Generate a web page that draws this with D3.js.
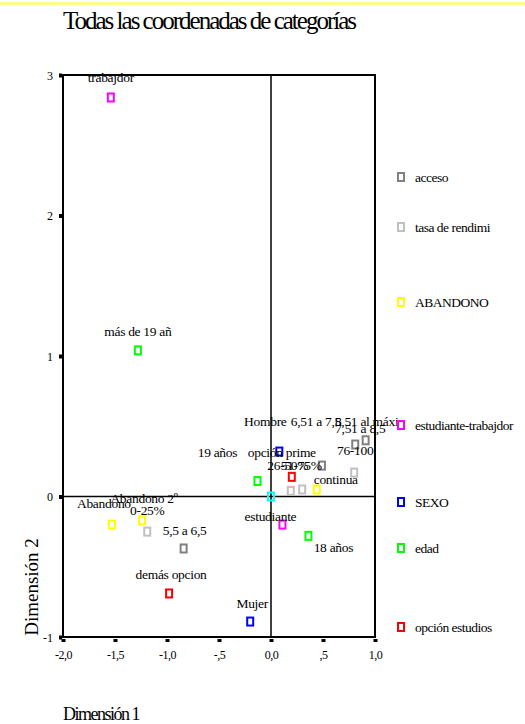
<!DOCTYPE html>
<html>
<head>
<meta charset="utf-8">
<script src="https://cdn.jsdelivr.net/npm/d3@7"></script>
<style>
  body { margin: 0; background: #fff; }
  svg { display: block; }
  svg text { font-family: "Liberation Serif", "Times New Roman", serif; }
</style>
</head>
<body>
<svg id="chart" width="525" height="724"></svg>
<script>
// ---------------- DATA ----------------
const seriesNames = ["acceso", "tasa de rendimi", "ABANDONO", "estudiante-trabajdor", "SEXO", "edad", "opción estudios"];
const seriesColors = ["#808080", "#c0c0c0", "#ffff00", "#ff00ff", "#0000ff", "#00ff00", "#ff0000", "#00ffff"];

const categories = [
  "5,5 a 6,5", "6,51 a 7,5", "7,51 a 8,5", "8,51 al máxi",
  "0-25%", "26-50%", "51-75%", "76-100",
  "Abandono", "Abandono 2º", "continua",
  "trabajdor", "estudiante",
  "Hombre", "Mujer",
  "más de 19 añ", "19 años", "18 años",
  "opción prime", "demás opcion",
  ""
];
const group = [0,0,0,0, 1,1,1,1, 2,2,2, 3,3, 4,4, 5,5,5, 6,6, 7];
const dim1 = [-0.84, 0.49, 0.81, 0.91,  -1.19, 0.19, 0.30, 0.80,  -1.53, -1.24, 0.44,  -1.54, 0.11,  0.08, -0.20,  -1.28, -0.13, 0.36,  0.20, -0.98,  0.00];
const dim2 = [-0.37, 0.22, 0.37, 0.40,  -0.25, 0.04, 0.05, 0.17,  -0.20, -0.17, 0.05,   2.84, -0.20, 0.32, -0.89,   1.04, 0.11, -0.28,  0.14, -0.69,  0.00];

const xTickValues = [-2, -1.5, -1, -0.5, 0, 0.5, 1];
const xTickLabels = ["-2,0", "-1,5", "-1,0", "-,5", "0,0", ",5", "1,0"];
const yTickValues = [-1, 0, 1, 2, 3];
const yTickLabels = ["-1", "0", "1", "2", "3"];

// ---------------- LAYOUT ----------------
// label placement (dx, dy from marker centre to label centre/baseline)
const labelDX = [1, -6, 5, 1,   0, -3, -1, 1,   -8, 2, 19,   0, -12,  -14, 2,   0, -40, 25,  -10, 2,  0];
const labelDY = [-13, -40, -12, -14,  -17, -21, -19, -18,  -17, -17, -5,  -15, -4,  -26, -14,  -14, -24, 16,  -20, -14,  0];
const legendY = [177, 227, 302, 425, 502, 548, 627];

const FONT = '"Liberation Serif", "Times New Roman", serif';
const svg = d3.select("#chart");
const L = 63, R = 375, T = 75, B = 637;
const x = d3.scaleLinear().domain([-2, 1]).range([L, R]);
const y = d3.scaleLinear().domain([-1, 3]).range([B, T]);

// top yellow rule
svg.append("rect").attr("x", 0).attr("y", 2).attr("width", 525).attr("height", 3).attr("fill", "#ffff88");

// title
svg.append("text").attr("x", 63).attr("y", 29)
  .style("font-family", FONT).style("font-size", "25px").style("letter-spacing", "-2px")
  .text("Todas las coordenadas de categorías");

// zero lines
svg.append("line").attr("x1", x(0)).attr("x2", x(0)).attr("y1", T).attr("y2", B)
  .attr("stroke", "#000").attr("stroke-width", 1.5);
svg.append("line").attr("x1", L).attr("x2", R).attr("y1", y(0)).attr("y2", y(0))
  .attr("stroke", "#000").attr("stroke-width", 1.5);

// frame
svg.append("rect").attr("x", L).attr("y", T).attr("width", R - L).attr("height", B - T)
  .attr("fill", "none").attr("stroke", "#000").attr("stroke-width", 2);

// x axis
const xAxis = svg.append("g").attr("transform", `translate(0,${B})`)
  .call(d3.axisBottom(x).tickValues(xTickValues).tickSize(0).tickFormat((d, i) => xTickLabels[i]));
xAxis.attr("font-family", null);
xAxis.select(".domain").remove();
xAxis.selectAll(".tick").append("rect").attr("x", -2).attr("y", 2).attr("width", 4).attr("height", 3).attr("fill", "#000");
xAxis.selectAll(".tick text").attr("y", 22).attr("dy", 0)
  .style("font-family", FONT).style("font-size", "12px").style("letter-spacing", "-0.5px").attr("fill", "#000");

// y axis
const yAxis = svg.append("g").attr("transform", `translate(${L},0)`)
  .call(d3.axisLeft(y).tickValues(yTickValues).tickSize(0).tickFormat((d, i) => yTickLabels[i]));
yAxis.attr("font-family", null);
yAxis.select(".domain").remove();
yAxis.selectAll(".tick").append("rect").attr("x", -4).attr("y", -2).attr("width", 3).attr("height", 4).attr("fill", "#000");
yAxis.selectAll(".tick text").attr("x", -10).attr("dy", "0.35em")
  .style("font-family", FONT).style("font-size", "12px").attr("fill", "#000");

// axis titles
svg.append("text").attr("x", 63).attr("y", 720)
  .style("font-family", FONT).style("font-size", "18px").style("letter-spacing", "-1.5px").text("Dimensión 1");
svg.append("text").attr("transform", "translate(38,587) rotate(-90)").attr("text-anchor", "middle")
  .style("font-family", FONT).style("font-size", "19px").text("Dimensión 2");

// points
const pts = categories.map((c, i) => ({ label: c, g: group[i], x: dim1[i], y: dim2[i], dx: labelDX[i], dy: labelDY[i] }));

svg.append("g").selectAll("rect").data(pts).join("rect")
  .attr("x", d => x(d.x) - 3).attr("y", d => y(d.y) - 4)
  .attr("width", 6).attr("height", 8)
  .attr("fill", "none").attr("stroke", d => seriesColors[d.g]).attr("stroke-width", 2);

svg.append("g").selectAll("text").data(pts.filter(d => d.label)).join("text")
  .attr("x", d => x(d.x) + d.dx).attr("y", d => y(d.y) + d.dy)
  .attr("text-anchor", "middle")
  .style("font-family", FONT).style("font-size", "13.5px").style("letter-spacing", "-0.3px")
  .text(d => d.label);

// legend
const lg = svg.append("g").selectAll("g").data(seriesNames).join("g")
  .attr("transform", (d, i) => `translate(401,${legendY[i]})`);
lg.append("rect").attr("x", -3).attr("y", -4).attr("width", 6).attr("height", 8)
  .attr("fill", "none").attr("stroke", (d, i) => seriesColors[i]).attr("stroke-width", 2);
lg.append("text").attr("x", 14).attr("y", 5)
  .style("font-family", FONT).style("font-size", "13.5px").style("letter-spacing", "-0.5px").text(d => d);
</script>
</body>
</html>
